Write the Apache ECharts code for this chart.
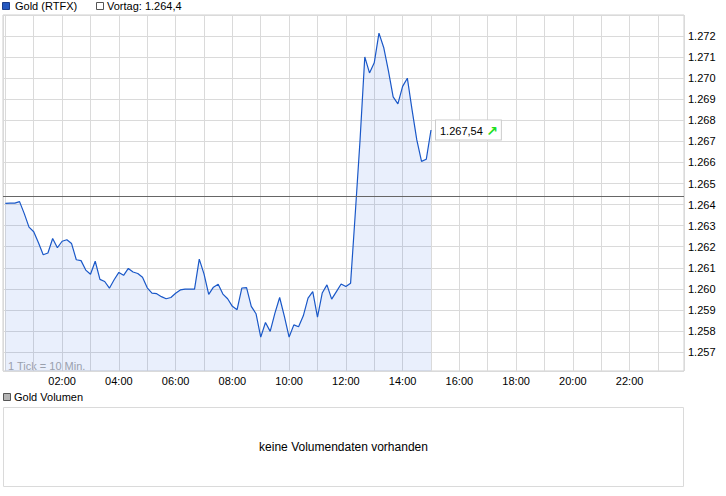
<!DOCTYPE html>
<html>
<head>
<meta charset="utf-8">
<script src="https://cdn.jsdelivr.net/npm/echarts@6/dist/echarts.min.js"></script>
<style>
html,body{margin:0;padding:0;background:#fff;}
#c{width:726px;height:496px;}
</style>
</head>
<body>
<div id="c"></div>
<script>
// ---- data ----
const seriesName = "Gold (RTFX)";
const volumeName = "Gold Volumen";
const prevClose = 1264.4;
const stepMinutes = 10;
const prices = [
1264.06,1264.07,1264.07,1264.14,1263.57,1262.93,1262.71,1262.19,1261.62,1261.70,
1262.39,1261.95,1262.26,1262.33,1262.15,1261.38,1261.34,1260.89,1260.69,1261.31,
1260.45,1260.35,1260.03,1260.43,1260.78,1260.64,1260.97,1260.80,1260.73,1260.55,
1260.05,1259.80,1259.77,1259.63,1259.53,1259.59,1259.79,1259.95,1259.99,1259.99,
1259.99,1261.41,1260.71,1259.74,1260.08,1260.22,1259.75,1259.53,1259.17,1259.01,
1260.04,1260.06,1259.17,1258.82,1257.71,1258.40,1257.98,1258.85,1259.59,1258.69,
1257.71,1258.29,1258.20,1258.72,1259.56,1259.87,1258.66,1259.80,1260.19,1259.51,
1259.87,1260.23,1260.11,1260.27,1263.61,1267.07,1271.01,1270.25,1270.73,1272.14,
1271.46,1270.35,1269.11,1268.78,1269.61,1270.00,1268.50,1267.07,1266.05,1266.15,
1267.54
];
const yMin = 1256.1, yMax = 1273.0;
const xMin = -5, xMax = 1435;
const noVolumeText = "keine Volumendaten vorhanden";
const tickNote = "1 Tick = 10 Min.";

// ---- helpers ----
function fmtDE(n, dec) {
  const s = n.toFixed(dec);
  const parts = s.split('.');
  const intPart = parts[0].replace(/\B(?=(\d{3})+(?!\d))/g, '.');
  return parts.length > 1 ? intPart + ',' + parts[1] : intPart;
}
const data = prices.map((v, i) => [i * stepMinutes, v]);
const last = prices[prices.length - 1];
const FONT = "'Liberation Sans', Arial, sans-serif";

const chart = echarts.init(document.getElementById('c'), null, {renderer: 'svg'});
chart.setOption({
  animation: false,
  backgroundColor: '#fff',
  textStyle: {fontFamily: FONT},
  grid: {left: 3, right: 42, top: 15, bottom: 125, show: true, borderColor: '#cfcfcf', borderWidth: 1, backgroundColor: 'transparent'},
  xAxis: {
    type: 'value', min: xMin, max: xMax, splitNumber: 24, minInterval: 60, maxInterval: 60,
    axisLine: {show: false}, axisTick: {show: false},
    splitLine: {show: true, lineStyle: {color: '#dadada', width: 1}},
    axisLabel: {
      margin: 4, color: '#000', fontSize: 11, fontFamily: FONT,
      formatter: v => (v % 120 === 0 && v > 0) ? String(v / 60).padStart(2, '0') + ':00' : ''
    }
  },
  yAxis: {
    type: 'value', position: 'right', min: yMin, max: yMax, splitNumber: 17, minInterval: 1, maxInterval: 1,
    axisLine: {show: false}, axisTick: {show: false},
    splitLine: {show: true, lineStyle: {color: '#dadada', width: 1}},
    axisLabel: {
      margin: 4, color: '#000', fontSize: 11, fontFamily: FONT, showMinLabel: false, showMaxLabel: false,
      formatter: v => fmtDE(v, 0)
    }
  },
  series: [{
    name: seriesName, type: 'line', data: data, showSymbol: false, silent: true,
    lineStyle: {color: '#1a58c8', width: 1.2},
    areaStyle: {color: 'rgba(30,95,225,0.14)', origin: 'start'},
    markLine: {
      silent: true, symbol: 'none', label: {show: false},
      lineStyle: {color: '#666666', width: 1, type: 'solid'},
      data: [{yAxis: prevClose}]
    },
    endLabel: {
      show: true, distance: 5,
      formatter: () => '{t|' + fmtDE(last, 2) + '} {a|\u2197}',
      backgroundColor: '#fff', borderColor: '#cccccc', borderWidth: 1, padding: [3, 3, 2, 4],
      rich: {
        t: {color: '#000', fontSize: 11, fontFamily: FONT},
        a: {color: '#1ee01e', fontSize: 14, fontWeight: 'bold', fontFamily: 'DejaVu Sans'}
      }
    }
  }],
  graphic: [
    {type: 'rect', shape: {x: 2.5, y: 2.5, width: 7, height: 7}, style: {fill: '#2458c0', stroke: '#1a3d8a', lineWidth: 1}},
    {type: 'text', x: 15, y: 6, style: {text: seriesName, font: '11px ' + FONT, fill: '#000', verticalAlign: 'middle'}},
    {type: 'rect', shape: {x: 96.5, y: 2.5, width: 7, height: 7}, style: {fill: '#fff', stroke: '#555', lineWidth: 1}},
    {type: 'text', x: 107, y: 6, style: {text: 'Vortag: ' + fmtDE(prevClose, 1), font: '11px ' + FONT, fill: '#000', verticalAlign: 'middle'}},
    {type: 'text', x: 8, y: 366, style: {text: tickNote, font: '11px ' + FONT, fill: '#a8a8a8', verticalAlign: 'middle'}},
    {type: 'rect', shape: {x: 3.5, y: 393.5, width: 7, height: 7}, style: {fill: '#b4b4b4', stroke: '#555', lineWidth: 1}},
    {type: 'text', x: 14, y: 397, style: {text: volumeName, font: '11px ' + FONT, fill: '#000', verticalAlign: 'middle'}},
    {type: 'rect', shape: {x: 3.5, y: 407.5, width: 680, height: 79}, style: {fill: '#fff', stroke: '#dadada', lineWidth: 1}},
    {type: 'text', x: 343.5, y: 447, style: {text: noVolumeText, font: '12px ' + FONT, fill: '#000', align: 'center', verticalAlign: 'middle'}}
  ]
});
</script>
</body>
</html>
